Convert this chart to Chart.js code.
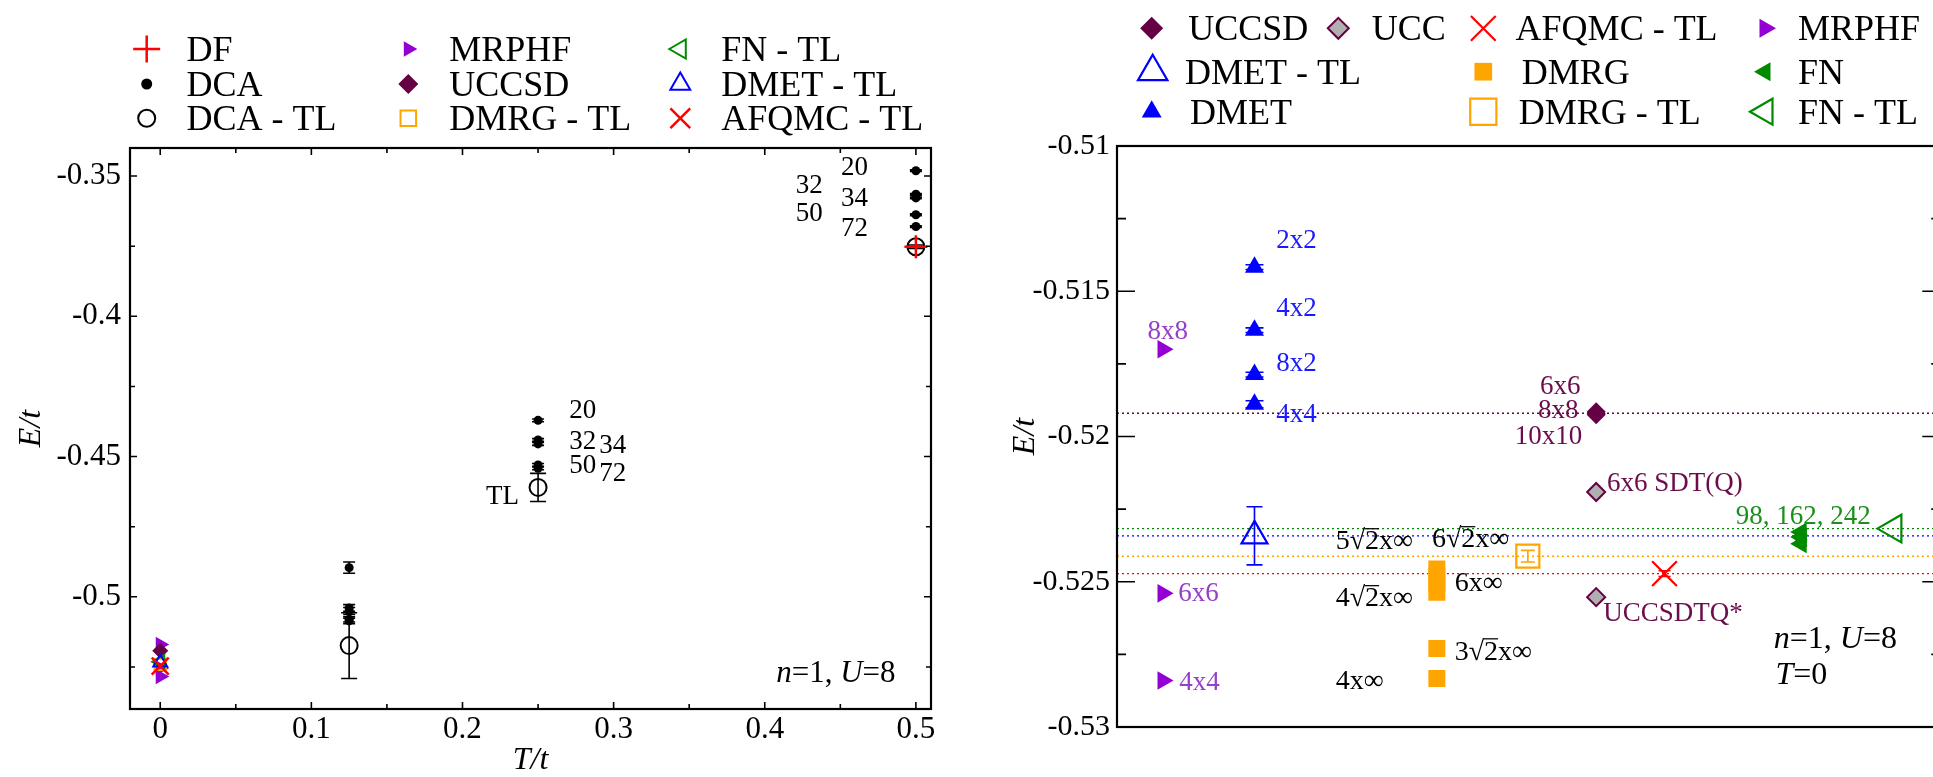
<!DOCTYPE html>
<html>
<head>
<meta charset="utf-8">
<title>Hubbard energies</title>
<script src="https://cdn.jsdelivr.net/npm/chart.js@4.4.1/dist/chart.umd.min.js"></script>
<style>
  html, body { margin: 0; padding: 0; background: #fff; overflow: hidden; }
  #wrap { position: relative; width: 1933px; height: 777px; overflow: hidden; background: #fff; }
  #finite { position: absolute; left: 0; top: 0; }
  #ground { position: absolute; left: 960px; top: 0; }
</style>
</head>
<body>
<div id="wrap">
  <canvas id="finite" width="960" height="777"></canvas>
  <canvas id="ground" width="1000" height="777"></canvas>
</div>
<script>
// ---------- left panel: E/t against temperature ----------
const dcaTemps = [0.125, 0.25, 0.5];
const dcaClusters = ['20', '32', '34', '50', '72'];
const dcaEnergy = [
  [-0.4896, -0.5040, -0.5050, -0.5080, -0.5086],
  [-0.4371, -0.4441, -0.4455, -0.4530, -0.4542],
  [-0.3481, -0.3565, -0.3578, -0.3638, -0.3680]
];
const dcaError = [
  [0.0020, 0.0012, 0.0012, 0.0010, 0.0010],
  [0.0005, 0.0005, 0.0005, 0.0005, 0.0005],
  [0.0003, 0.0003, 0.0003, 0.0003, 0.0003]
];
const dcaTLEnergy = [-0.5174, -0.4610, -0.3752];
const dcaTLError = [0.0117, 0.0050, 0.0006];
const dfTemps = [0.5];
const dfEnergy = [-0.3752];

const tempTicks = [0, 0.1, 0.2, 0.3, 0.4, 0.5];
const tempMinor = [0.05, 0.15, 0.25, 0.35, 0.45];
const finiteTicks = [-0.35, -0.4, -0.45, -0.5];
const finiteMinor = [-0.375, -0.425, -0.475, -0.525];

// ---------- ground state (T = 0) results ----------
const mrphfClusters = ['8x8', '6x6', '4x4'];
const mrphfEnergy = [-0.5170, -0.5254, -0.5284];
const uccsdClusters = ['6x6', '8x8', '10x10'];
const uccsdEnergy = [-0.51915, -0.51920, -0.51925];
const uccLabels = ['6x6 SDT(Q)', 'UCCSDTQ*'];
const uccEnergy = [-0.52191, -0.52553];
const dmetClusters = ['2x2', '4x2', '8x2', '4x4'];
const dmetEnergy = [-0.51417, -0.51634, -0.51787, -0.51889];
const dmetError = [0.00008, 0.00008, 0.00008, 0.00012];
const dmetTL = [-0.52342];
const dmetTLError = [0.00100];
const dmrgClusters = ['6√2x∞', '5√2x∞', '6x∞', '4√2x∞', '3√2x∞', '4x∞'];
const dmrgEnergy = [-0.52456, -0.52481, -0.52509, -0.52536, -0.52730, -0.52833];
const dmrgTL = [-0.52412];
const dmrgTLError = [0.00020];
const afqmcTL = [-0.52472];
const afqmcTLError = [0.00010];
const fnClusters = ['98', '162', '242'];
const fnEnergy = [-0.52329, -0.52346, -0.52369];
const fnError = [0.00008, 0.00008, 0.00008];
const fnTL = [-0.52317];

// horizontal slot of each method on the T = 0 panel
const methodX = { MRPHF: 0.557, DMET: 1.67, DMRG: 3.885, DMRG_TL: 4.99, UCC: 5.82, AFQMC: 6.65, FN: 8.31, FN_TL: 9.43 };

const groundTicks = [-0.51, -0.515, -0.52, -0.525, -0.53];
const groundMinor = [-0.5125, -0.5175, -0.5225, -0.5275];

// ---------- colours ----------
const BLACK = '#000000', RED = '#ff0000', BLUE = '#0000ff', GREEN = '#008a00',
      ORANGE = '#ffa500', PURPLE = '#9400d3', MAROON = '#660044', GREY = '#b0b0b0',
      NONE = 'rgba(0,0,0,0)';
const TXT_PURPLE = '#9540c8', TXT_MAROON = '#6b0d4c', TXT_GREEN = '#1a8f1a', TXT_BLUE = '#1a1aff';
const SERIF = "'Liberation Serif', 'Times New Roman', serif";

const at = (x, ys) => ys.map(y => ({ x: x, y: y }));
const fmt = v => String(+v.toFixed(4));

// text with _italic_ runs; a radical sign gets its overbar over the next char
function drawRich(ctx, text, x, y, size, color, align) {
  const parts = text.split('_');
  const fontFor = i => (i % 2 ? 'italic ' : '') + size + 'px ' + SERIF;
  let total = 0;
  parts.forEach((p, i) => { ctx.font = fontFor(i); total += ctx.measureText(p).width; });
  let cx = align === 'center' ? x - total / 2 : align === 'right' ? x - total : x;
  const base = y + size * 0.33;
  ctx.save();
  ctx.fillStyle = color;
  ctx.strokeStyle = color;
  ctx.textAlign = 'left';
  ctx.textBaseline = 'alphabetic';
  parts.forEach((p, i) => {
    ctx.font = fontFor(i);
    ctx.fillText(p, cx, base);
    let k = p.indexOf('√');
    while (k >= 0) {
      const x0 = cx + ctx.measureText(p.slice(0, k + 1)).width - size * 0.03;
      const x1 = cx + ctx.measureText(p.slice(0, k + 2)).width;
      ctx.lineWidth = Math.max(1, size * 0.045);
      ctx.beginPath();
      ctx.moveTo(x0, base - size * 0.74);
      ctx.lineTo(x1, base - size * 0.74);
      ctx.stroke();
      k = p.indexOf('√', k + 1);
    }
    cx += ctx.measureText(p).width;
  });
  ctx.restore();
}

function drawMarker(ctx, ds, x, y, r) {
  ctx.save();
  ctx.fillStyle = ds.backgroundColor;
  ctx.strokeStyle = ds.borderColor;
  ctx.lineWidth = ds.borderWidth;
  Chart.helpers.drawPoint(ctx, {
    pointStyle: ds.pointStyle,
    rotation: ds.pointRotation || 0,
    radius: r,
    borderWidth: ds.borderWidth
  }, x, y);
  ctx.restore();
}

// vertical error bars with caps, drawn under the markers
const errorBars = {
  id: 'errorBars',
  beforeDatasetsDraw(chart) {
    const { ctx } = chart;
    const xs = chart.scales.x, ys = chart.scales.y;
    ctx.save();
    chart.data.datasets.forEach(ds => {
      if (!ds.errors) return;
      ctx.strokeStyle = ds.borderColor === NONE ? BLACK : ds.borderColor;
      ctx.lineWidth = ds.errorWidth || 1.6;
      ds.data.forEach((p, j) => {
        const e = ds.errors[j];
        if (!e) return;
        const px = xs.getPixelForValue(p.x);
        const top = ys.getPixelForValue(p.y + e);
        const bot = ys.getPixelForValue(p.y - e);
        const w = ds.capHalf || 6;
        ctx.beginPath();
        ctx.moveTo(px, top); ctx.lineTo(px, bot);
        ctx.moveTo(px - w, top); ctx.lineTo(px + w, top);
        ctx.moveTo(px - w, bot); ctx.lineTo(px + w, bot);
        ctx.stroke();
      });
    });
    ctx.restore();
  }
};

// box around the plot with inward ticks
function framePlugin(cfg) {
  return {
    id: 'frame',
    afterDraw(chart) {
      const { ctx, chartArea: a } = chart;
      const xs = chart.scales.x, ys = chart.scales.y;
      ctx.save();
      ctx.strokeStyle = BLACK;
      ctx.lineWidth = 1.6;
      const yTicks = (vals, len) => vals.forEach(v => {
        const p = ys.getPixelForValue(v);
        ctx.beginPath();
        ctx.moveTo(a.left, p); ctx.lineTo(a.left + len, p);
        ctx.moveTo(a.right, p); ctx.lineTo(a.right - len, p);
        ctx.stroke();
      });
      const xTicks = (vals, len) => vals.forEach(v => {
        const p = xs.getPixelForValue(v);
        ctx.beginPath();
        ctx.moveTo(p, a.bottom); ctx.lineTo(p, a.bottom - len);
        ctx.moveTo(p, a.top); ctx.lineTo(p, a.top + len);
        ctx.stroke();
      });
      yTicks(cfg.yMajor, cfg.major);
      yTicks(cfg.yMinor, cfg.minor);
      if (cfg.xMajor) {
        xTicks(cfg.xMajor, cfg.major);
        xTicks(cfg.xMinor, cfg.minor);
      }
      ctx.lineWidth = 2.2;
      ctx.strokeRect(a.left, a.top, a.right - a.left, a.bottom - a.top);
      ctx.restore();
    }
  };
}

function legendPlugin(items, size) {
  return {
    id: 'panelLegend',
    afterDraw(chart) {
      items.forEach(([label, mx, tx, y]) => {
        const ds = chart.data.datasets.find(d => d.label === label);
        drawMarker(chart.ctx, ds, mx, y, ds.legendRadius);
        drawRich(chart.ctx, label, tx, y, size, BLACK, 'left');
      });
    }
  };
}

function notesPlugin(notes) {
  return {
    id: 'notes',
    afterDatasetsDraw(chart) {
      const xs = chart.scales.x, ys = chart.scales.y;
      notes.forEach(n => {
        drawRich(chart.ctx, n.text, xs.getPixelForValue(n.x), ys.getPixelForValue(n.y),
                 n.size, n.color, n.align || 'left');
      });
    }
  };
}

function yAxis(ticks, width, pad, fontSize, titlePad) {
  return {
    type: 'linear',
    min: ticks[ticks.length - 1] - (ticks === finiteTicks ? 0.04 : 0),
    max: ticks[0] + (ticks === finiteTicks ? 0.01 : 0),
    grid: { display: false, drawTicks: false },
    border: { display: false },
    afterBuildTicks: s => { s.ticks = ticks.map(v => ({ value: v })); },
    afterFit: s => { s.width = width; },
    ticks: { autoSkip: false, padding: pad, color: BLACK, callback: fmt,
             font: { family: SERIF, size: fontSize } },
    title: { display: true, text: 'E/t', color: BLACK, padding: { top: titlePad, bottom: 0 },
             font: { family: SERIF, size: 32, style: 'italic', lineHeight: 1 } }
  };
}

// ---------- left chart ----------
const finiteData = [
  { label: 'DF', data: at(dfTemps[0], dfEnergy), pointStyle: 'cross', pointRadius: 11.5,
    borderColor: RED, backgroundColor: RED, borderWidth: 2.5, legendRadius: 13.5 },
  { label: 'DCA - TL', data: dcaTemps.map((t, i) => ({ x: t, y: dcaTLEnergy[i] })),
    errors: dcaTLError, capHalf: 8, pointStyle: 'circle', pointRadius: 8.5,
    borderColor: BLACK, backgroundColor: NONE, borderWidth: 2, legendRadius: 8.5 },
  { label: 'DCA', data: dcaEnergy.flatMap((row, i) => at(dcaTemps[i], row)),
    errors: dcaError.flat(), capHalf: 6, pointStyle: 'circle', pointRadius: 4.5,
    borderColor: BLACK, backgroundColor: BLACK, borderWidth: 0, legendRadius: 5.5 },
  { label: 'AFQMC - TL', data: at(0, afqmcTL), pointStyle: 'crossRot', pointRadius: 12,
    borderColor: RED, backgroundColor: RED, borderWidth: 2.5, legendRadius: 14 },
  { label: 'DMET - TL', data: at(0, dmetTL), pointStyle: 'triangle', pointRadius: 8,
    borderColor: BLUE, backgroundColor: NONE, borderWidth: 2, legendRadius: 11.5 },
  { label: 'FN - TL', data: at(0, fnTL), pointStyle: 'triangle', pointRotation: -90, pointRadius: 8,
    borderColor: GREEN, backgroundColor: NONE, borderWidth: 2, legendRadius: 11 },
  { label: 'DMRG - TL', data: at(0, dmrgTL), pointStyle: 'rect', pointRadius: 8,
    borderColor: ORANGE, backgroundColor: NONE, borderWidth: 2, legendRadius: 11 },
  { label: 'UCCSD', data: at(0, [uccsdEnergy[1]]), pointStyle: 'rectRot', pointRadius: 8,
    borderColor: MAROON, backgroundColor: MAROON, borderWidth: 0, legendRadius: 10 },
  { label: 'MRPHF', data: at(0, mrphfEnergy), pointStyle: 'triangle', pointRotation: 90, pointRadius: 9,
    borderColor: PURPLE, backgroundColor: PURPLE, borderWidth: 0, legendRadius: 9 }
];

const finiteNotes = [
  { text: dcaClusters[0], x: 0.4594, y: -0.3465 }, { text: dcaClusters[1], x: 0.4295, y: -0.3530 },
  { text: dcaClusters[2], x: 0.4594, y: -0.3574 }, { text: dcaClusters[3], x: 0.4295, y: -0.3630 },
  { text: dcaClusters[4], x: 0.4594, y: -0.3683 },
  { text: dcaClusters[0], x: 0.2795, y: -0.4331 }, { text: dcaClusters[1], x: 0.2795, y: -0.4440 },
  { text: dcaClusters[2], x: 0.2994, y: -0.4454 }, { text: dcaClusters[3], x: 0.2795, y: -0.4527 },
  { text: dcaClusters[4], x: 0.2994, y: -0.4557 },
  { text: 'TL', x: 0.2265, y: -0.4636 }
].map(n => Object.assign(n, { size: 27, color: BLACK, align: 'center' }));
finiteNotes.push({ text: '_n_=1, _U_=8', x: 0.4076, y: -0.5266, size: 31, color: BLACK, align: 'left' });

const finiteLegend = [
  ['DF', 146.7, 186.4, 49], ['DCA', 146.7, 186.4, 84], ['DCA - TL', 146.7, 186.4, 118.3],
  ['MRPHF', 408.3, 449.3, 49], ['UCCSD', 408.3, 449.3, 84], ['DMRG - TL', 408.3, 449.3, 118.3],
  ['FN - TL', 680.3, 721.3, 49], ['DMET - TL', 680.3, 721.3, 84], ['AFQMC - TL', 680.3, 721.3, 118.3]
];

new Chart(document.getElementById('finite'), {
  type: 'scatter',
  data: { datasets: finiteData },
  options: {
    responsive: false,
    animation: false,
    events: [],
    layout: { padding: { top: 148, right: 29, bottom: 0, left: 0 } },
    plugins: { legend: { display: false }, tooltip: { enabled: false } },
    scales: {
      x: {
        type: 'linear', min: -0.02, max: 0.51,
        grid: { display: false, drawTicks: false },
        border: { display: false },
        afterBuildTicks: s => { s.ticks = tempTicks.map(v => ({ value: v })); },
        afterFit: s => { s.height = 68; },
        ticks: { autoSkip: false, maxRotation: 0, padding: 2, color: BLACK, callback: fmt,
                 font: { family: SERIF, size: 31 } },
        title: { display: true, text: 'T/t', color: BLACK, padding: 0,
                 font: { family: SERIF, size: 32, style: 'italic', lineHeight: 1 } }
      },
      y: yAxis(finiteTicks, 130, 9, 31, 16)
    }
  },
  plugins: [errorBars,
            framePlugin({ yMajor: finiteTicks, yMinor: finiteMinor, xMajor: tempTicks, xMinor: tempMinor, major: 7, minor: 5 }),
            notesPlugin(finiteNotes),
            legendPlugin(finiteLegend, 36)]
});

// ---------- right chart (T = 0) ----------
const refLine = (y, color) => ({
  label: '', data: [{ x: 0, y: y }, { x: 10, y: y }], showLine: true, pointRadius: 0,
  borderColor: color, borderWidth: 1.4, borderDash: [2, 3]
});

const groundData = [
  { label: 'AFQMC - TL', data: at(methodX.AFQMC, afqmcTL), errors: afqmcTLError, capHalf: 6,
    pointStyle: 'crossRot', pointRadius: 17.5, borderColor: RED, backgroundColor: RED, borderWidth: 2.2, legendRadius: 17.5 },
  { label: 'FN - TL', data: at(methodX.FN_TL, fnTL), pointStyle: 'triangle', pointRotation: -90, pointRadius: 16,
    borderColor: GREEN, backgroundColor: NONE, borderWidth: 2.2, legendRadius: 15 },
  { label: 'FN', data: at(methodX.FN, fnEnergy), errors: fnError, capHalf: 6, pointStyle: 'triangle', pointRotation: -90,
    pointRadius: 11, borderColor: GREEN, backgroundColor: GREEN, borderWidth: 0, legendRadius: 11 },
  { label: 'DMRG - TL', data: at(methodX.DMRG_TL, dmrgTL), errors: dmrgTLError, capHalf: 7, pointStyle: 'rect',
    pointRadius: 16.3, borderColor: ORANGE, backgroundColor: NONE, borderWidth: 2.2, legendRadius: 18.5 },
  { label: 'DMRG', data: at(methodX.DMRG, dmrgEnergy), pointStyle: 'rect', pointRadius: 12,
    borderColor: ORANGE, backgroundColor: ORANGE, borderWidth: 0, legendRadius: 12.5 },
  { label: 'DMET - TL', data: at(methodX.DMET, dmetTL), errors: dmetTLError, capHalf: 8, pointStyle: 'triangle',
    pointRadius: 15, borderColor: BLUE, backgroundColor: NONE, borderWidth: 2.2, legendRadius: 17 },
  { label: 'DMET', data: at(methodX.DMET, dmetEnergy), errors: dmetError, capHalf: 9, pointStyle: 'triangle',
    pointRadius: 11, borderColor: BLUE, backgroundColor: BLUE, borderWidth: 0, legendRadius: 11.5 },
  { label: 'UCC', data: at(methodX.UCC, uccEnergy), pointStyle: 'rectRot', pointRadius: 9,
    borderColor: MAROON, backgroundColor: GREY, borderWidth: 2, legendRadius: 10.5 },
  { label: 'UCCSD', data: at(methodX.UCC, uccsdEnergy), pointStyle: 'rectRot', pointRadius: 9.5,
    borderColor: MAROON, backgroundColor: MAROON, borderWidth: 0, legendRadius: 11.5 },
  { label: 'MRPHF', data: at(methodX.MRPHF, mrphfEnergy), pointStyle: 'triangle', pointRotation: 90, pointRadius: 10.7,
    borderColor: PURPLE, backgroundColor: PURPLE, borderWidth: 0, legendRadius: 11 },
  refLine(uccsdEnergy[1], MAROON),
  refLine(fnTL[0], GREEN),
  refLine(dmetTL[0], BLUE),
  refLine(dmrgTL[0], ORANGE),
  refLine(afqmcTL[0], RED)
];

const groundNotes = [
  { text: dmetClusters[0], x: 1.935, y: -0.51319, size: 27, color: TXT_BLUE },
  { text: dmetClusters[1], x: 1.935, y: -0.51554, size: 27, color: TXT_BLUE },
  { text: dmetClusters[2], x: 1.935, y: -0.51744, size: 27, color: TXT_BLUE },
  { text: dmetClusters[3], x: 1.935, y: -0.51919, size: 27, color: TXT_BLUE },
  { text: mrphfClusters[0], x: 0.37, y: -0.51634, size: 27, color: TXT_PURPLE },
  { text: mrphfClusters[1], x: 0.745, y: -0.52535, size: 27, color: TXT_PURPLE },
  { text: mrphfClusters[2], x: 0.757, y: -0.52842, size: 27, color: TXT_PURPLE },
  { text: dmrgClusters[1], x: 2.657, y: -0.52357, size: 28, color: BLACK },
  { text: dmrgClusters[3], x: 2.657, y: -0.52553, size: 28, color: BLACK },
  { text: dmrgClusters[5], x: 2.657, y: -0.52839, size: 28, color: BLACK },
  { text: dmrgClusters[0], x: 3.825, y: -0.52350, size: 28, color: BLACK },
  { text: dmrgClusters[2], x: 4.102, y: -0.52501, size: 28, color: BLACK },
  { text: dmrgClusters[4], x: 4.102, y: -0.52736, size: 28, color: BLACK },
  { text: uccsdClusters[0], x: 5.631, y: -0.51824, size: 27, color: TXT_MAROON, align: 'right' },
  { text: uccsdClusters[1], x: 5.607, y: -0.51907, size: 27, color: TXT_MAROON, align: 'right' },
  { text: uccsdClusters[2], x: 5.651, y: -0.51996, size: 27, color: TXT_MAROON, align: 'right' },
  { text: uccLabels[0], x: 5.952, y: -0.52157, size: 27, color: TXT_MAROON },
  { text: uccLabels[1], x: 5.907, y: -0.52604, size: 27, color: TXT_MAROON },
  { text: fnClusters.join(', '), x: 7.517, y: -0.52271, size: 27, color: TXT_GREEN },
  { text: '_n_=1, _U_=8', x: 7.977, y: -0.52690, size: 32, color: BLACK },
  { text: '_T_=0', x: 7.997, y: -0.52816, size: 32, color: BLACK }
];

const groundLegend = [
  ['UCCSD', 191.7, 228.3, 28.3], ['UCC', 378.3, 411.7, 28.3], ['AFQMC - TL', 523.3, 555.6, 28.3], ['MRPHF', 805, 838, 28.3],
  ['DMET - TL', 192.7, 225, 71.7], ['DMRG', 523.3, 561.8, 71.7], ['FN', 805, 838, 71.7],
  ['DMET', 191.7, 230, 111.7], ['DMRG - TL', 523.3, 558.7, 111.7], ['FN - TL', 805, 838, 111.7]
];

new Chart(document.getElementById('ground'), {
  type: 'scatter',
  data: { datasets: groundData },
  options: {
    responsive: false,
    animation: false,
    events: [],
    layout: { padding: { top: 146, right: 12, bottom: 50, left: 0 } },
    plugins: { legend: { display: false }, tooltip: { enabled: false } },
    scales: {
      x: { type: 'linear', min: 0, max: 10, display: false },
      y: yAxis(groundTicks, 157, 7, 30, 50)
    }
  },
  plugins: [errorBars,
            framePlugin({ yMajor: groundTicks, yMinor: groundMinor, major: 18, minor: 9 }),
            notesPlugin(groundNotes),
            legendPlugin(groundLegend, 36)]
});
</script>
</body>
</html>
